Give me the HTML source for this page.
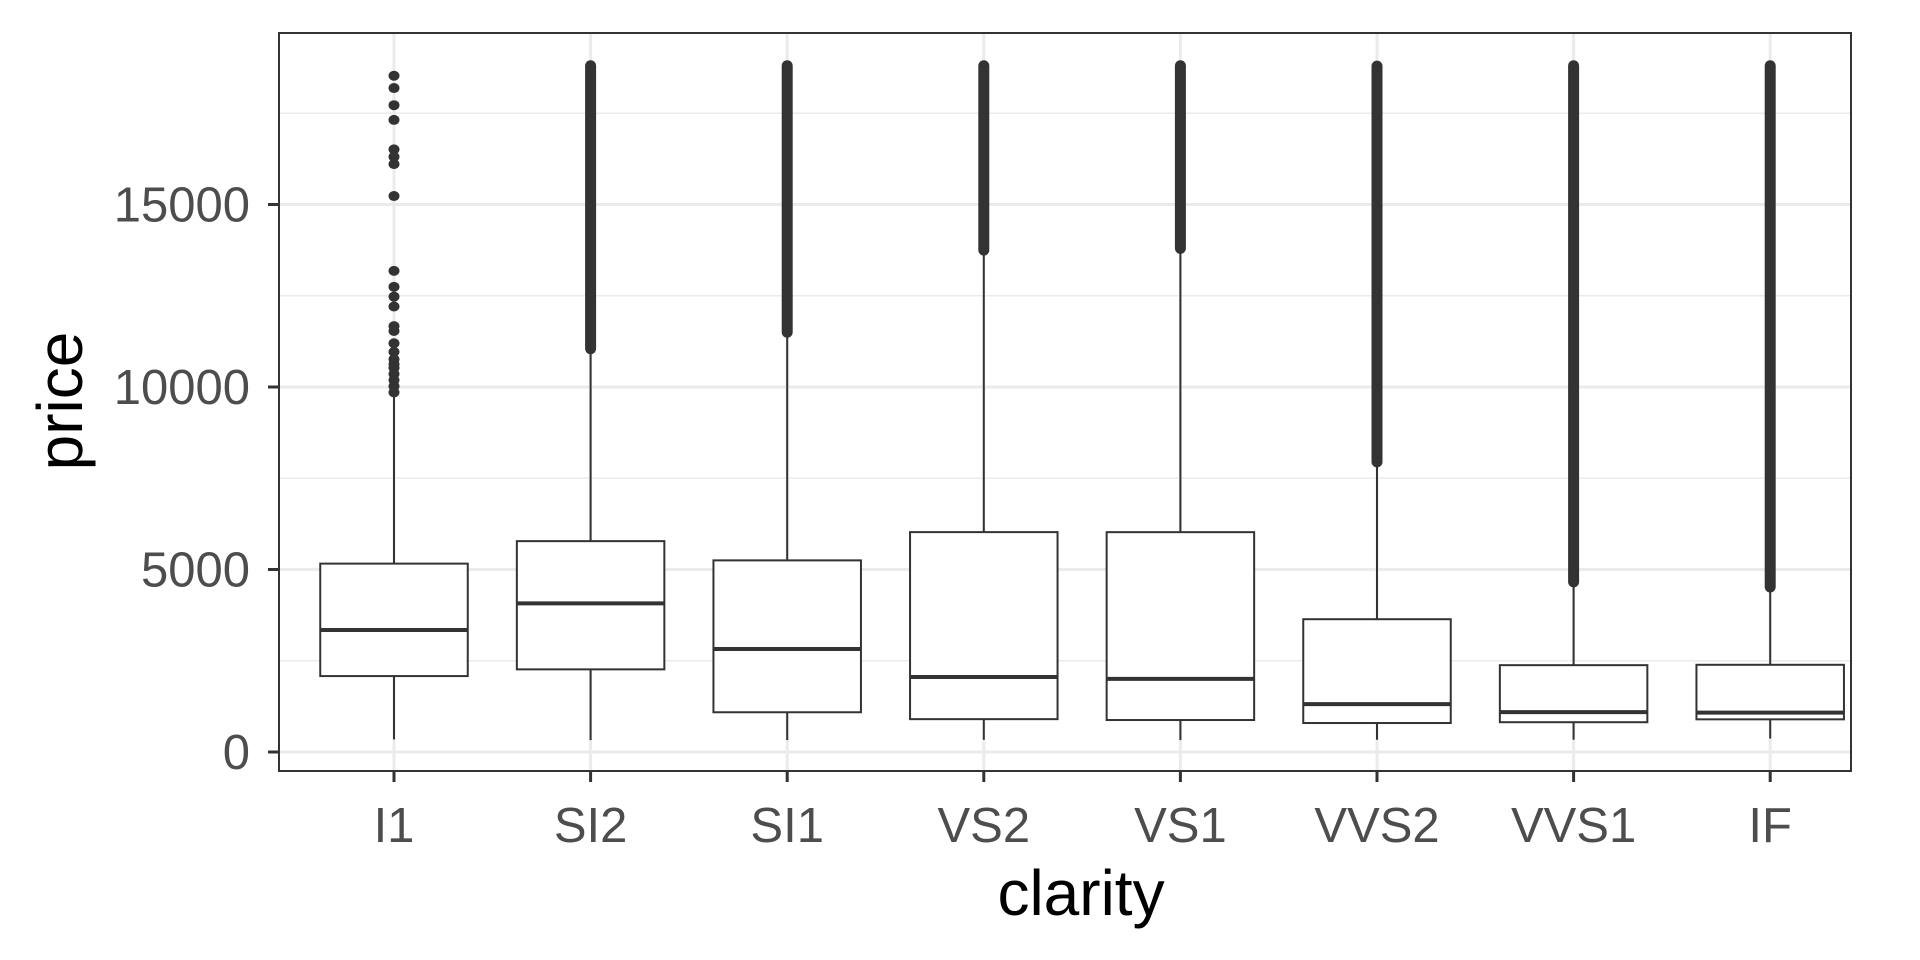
<!DOCTYPE html>
<html><head><meta charset="utf-8"><style>
html,body{margin:0;padding:0;background:#fff;}
svg{display:block;font-family:"Liberation Sans",sans-serif;}
</style></head><body>
<svg id="chart" width="1920" height="960" viewBox="0 0 1920 960"></svg>
<script>
const categories = ["I1","SI2","SI1","VS2","VS1","VVS2","VVS1","IF"];
const whiskerLow = [345,326,326,334,327,336,336,369];
const q1 = [2080,2264,1089,900,876,794,816,895];
const medians = [3344,4072,2822,2054,2005,1311,1093,1080];
const q3 = [5161,5777,5250,6024,6023,3638,2379,2389];
const whiskerHigh = [9750,11000,11450,13700,13750,7900,4700,4550];
const denseStart = [null,11050,11500,13750,13800,7950,4660,4520];
const denseEnd = [null,18800,18800,18800,18800,18790,18800,18800];
const i1Outliers = [18528,18191,17720,17317,16510,16308,16106,15232,13181,12744,12475,12206,11668,11534,11197,10962,10760,10625,10524,10356,10188,10020,9852];
const yTicks = [0,5000,10000,15000];
const yMinor = [2500,7500,12500,17500];

const NS="http://www.w3.org/2000/svg";
const svg=document.getElementById('chart');
const L=279,R=1851,T=33,B=771;
const y=v=>752-v*(182.5/5000);
const x=i=>394+i*196.6;
const bw=147.5;
function mk(tag,attrs,parent){const e=document.createElementNS(NS,tag);for(const k in attrs)e.setAttribute(k,attrs[k]);(parent||svg).appendChild(e);return e;}

const grid=mk('g',{});


yMinor.forEach(v=>{const l=mk('line',{x1:L,x2:R,y1:y(v),y2:y(v),stroke:'#ebebeb','stroke-width':1.5},grid);

});
yTicks.forEach(v=>{const l=mk('line',{x1:L,x2:R,y1:y(v),y2:y(v),stroke:'#ebebeb','stroke-width':3},grid);

});
categories.forEach((c,i)=>{const l=mk('line',{x1:x(i),x2:x(i),y1:T,y2:B,stroke:'#ebebeb','stroke-width':3},grid);

});

categories.forEach((c,i)=>{
  const g=mk('g',{});
  
  
  const cx=x(i),st='#333333';
  mk('line',{x1:cx,x2:cx,y1:y(whiskerLow[i]),y2:y(q1[i]),stroke:st,'stroke-width':2},g);
  mk('line',{x1:cx,x2:cx,y1:y(q3[i]),y2:y(whiskerHigh[i]),stroke:st,'stroke-width':2},g);
  mk('rect',{x:cx-bw/2,y:y(q3[i]),width:bw,height:y(q1[i])-y(q3[i]),fill:'#fff',stroke:st,'stroke-width':2},g);
  mk('line',{x1:cx-bw/2,x2:cx+bw/2,y1:y(medians[i]),y2:y(medians[i]),stroke:st,'stroke-width':4},g);
  if(denseStart[i]!==null){
    const b=mk('line',{x1:cx,x2:cx,y1:y(denseStart[i]),y2:y(denseEnd[i]),stroke:st,'stroke-width':11,'stroke-linecap':'round'},g);
    
    
  }
});
const og=mk('g',{});


i1Outliers.forEach(v=>{const c=mk('ellipse',{cx:x(0),cy:y(v),rx:5.5,ry:5,fill:'#333333'},og);

});

mk('rect',{x:L,y:T,width:R-L,height:B-T,fill:'none',stroke:'#333333','stroke-width':2});

yTicks.forEach(v=>{
  mk('line',{x1:268,x2:L,y1:y(v),y2:y(v),stroke:'#333333','stroke-width':3});
  const t=mk('text',{x:250,y:y(v)+17,'text-anchor':'end','font-size':49,fill:'#4d4d4d'});
  t.textContent=v;
  
  
});
categories.forEach((c,i)=>{
  mk('line',{x1:x(i),x2:x(i),y1:B,y2:B+11,stroke:'#333333','stroke-width':3});
  const t=mk('text',{x:x(i),y:842,'text-anchor':'middle','font-size':49,fill:'#4d4d4d'});
  t.textContent=c;
  
  
});
const xt=mk('text',{x:1081,y:915,'text-anchor':'middle','font-size':64,fill:'#000'});
xt.textContent='clarity';


const yt=mk('text',{x:0,y:0,'text-anchor':'middle','font-size':64,fill:'#000',transform:'translate(82,401) rotate(-90)'});
yt.textContent='price';


</script>
</body></html>
